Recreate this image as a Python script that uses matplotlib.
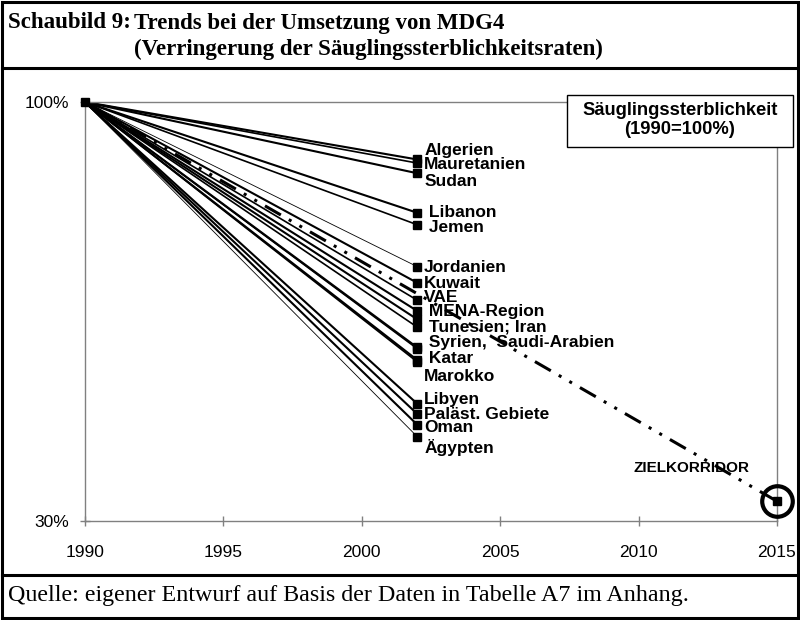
import matplotlib
matplotlib.use("Agg")
import matplotlib.pyplot as plt
from matplotlib.lines import Line2D
from matplotlib.patches import Rectangle

# ---- data -------------------------------------------------------------
countries = ["Algerien", "Mauretanien", "Sudan", "Libanon", "Jemen", "Jordanien",
             "Kuwait", "VAE", "MENA-Region", "Tunesien", "Iran", "Syrien",
             "Saudi-Arabien", "Katar", "Marokko", "Libyen", "Paläst. Gebiete",
             "Oman", "Ägypten"]
start_year = 1990
end_year = 2002
values_2002 = [90.4, 89.8, 88.1, 81.5, 79.5, 72.5,
               69.8, 66.9, 65.1, 63.7, 62.4, 59.0,
               58.8, 56.9, 56.6, 49.6, 47.9,
               46.1, 44.1]
target_years = [1990, 2015]
target_values = [100, 33.3]

label_texts = ["Algerien", "Mauretanien", "Sudan", " Libanon", " Jemen", "Jordanien",
               "Kuwait", "VAE", " MENA-Region", " Tunesien; Iran",
               " Syrien,  Saudi-Arabien", " Katar", "Marokko", "Libyen",
               "Paläst. Gebiete", "Oman", "Ägypten"]
label_y = [91.98, 89.48, 86.64, 81.46, 78.95, 72.27, 69.76, 67.42, 64.92, 62.41,
           59.74, 57.07, 54.06, 50.38, 47.71, 45.54, 42.2]
line_widths = [1.5, 1.2, 1.5, 1.5, 1.2, 0.6, 1.5, 1.2, 1.5, 1.5, 1.2, 1.5,
               1.2, 1.5, 1.2, 1.5, 1.5, 1.5, 0.6]

x_ticks = [1990, 1995, 2000, 2005, 2010, 2015]
y_ticks = [30, 100]
y_ticklabels = ["30%", "100%"]

# ---- figure -------------------------------------------------------------
W, H = 800, 620
fig = plt.figure(figsize=(W / 100, H / 100), dpi=100)
fig.patch.set_facecolor("white")

def fx(px):
    return px / W

def fy(py):
    return 1 - py / H

# frame
fig.add_artist(Rectangle((fx(2), fy(618)), fx(796), (616) / H, transform=fig.transFigure,
                         fill=False, lw=2.2, ec="black"))
fig.add_artist(Line2D([fx(2), fx(798)], [fy(68), fy(68)], transform=fig.transFigure,
                      lw=2.2, color="black"))
fig.add_artist(Line2D([fx(2), fx(798)], [fy(575), fy(575)], transform=fig.transFigure,
                      lw=2.2, color="black"))

serif = ["Liberation Serif", "DejaVu Serif"]
sans = ["Liberation Sans", "DejaVu Sans"]

fig.text(fx(8), fy(23), "Schaubild 9:", family=serif, weight="bold", fontsize=16.5,
         va="center", ha="left")
fig.text(fx(134), fy(23), "Trends bei der Umsetzung von MDG4", family=serif,
         weight="bold", fontsize=16.5, va="center", ha="left")
fig.text(fx(134), fy(49), "(Verringerung der Säuglingssterblichkeitsraten)", family=serif,
         weight="bold", fontsize=16.5, va="center", ha="left")
fig.text(fx(8), fy(596), "Quelle: eigener Entwurf auf Basis der Daten in Tabelle A7 im Anhang.",
         family=serif, fontsize=17.3, va="center", ha="left")

# axes
ax = fig.add_axes([fx(85), fy(521), fx(777) - fx(85), (521 - 102) / H])
ax.set_xlim(1990, 2015)
ax.set_ylim(30, 100)
for s in ax.spines.values():
    s.set_color("#808080")
    s.set_linewidth(1.0)
ax.set_xticks(x_ticks)
ax.set_xticklabels([str(t) for t in x_ticks], family=sans, fontsize=12.5)
ax.set_yticks(y_ticks)
ax.set_yticklabels(y_ticklabels, family=sans, fontsize=12.5)
ax.tick_params(axis="both", direction="inout", length=7, width=1, color="#808080")
ax.tick_params(axis="x", pad=14)
ax.tick_params(axis="y", pad=8)

for v, lw in zip(values_2002, line_widths):
    ax.plot([start_year, end_year], [100, v], color="black", lw=lw,
            solid_capstyle="butt", zorder=2)
    ax.plot([end_year], [v], marker="s", ms=5.5, color="black", ls="none", zorder=3,
            clip_on=False)
ax.plot([start_year], [100], marker="s", ms=6, color="black", ls="none", zorder=3,
        clip_on=False)

# target line
ax.plot(target_years, target_values, color="black", lw=2.2,
        linestyle=(0, (6, 3, 1, 3, 1, 3)), zorder=2.5)
ax.plot([target_years[-1]], [target_values[-1]], marker="s", ms=6, color="black",
        ls="none", zorder=4, clip_on=False)
ax.plot([target_years[-1]], [target_values[-1]], marker="o", ms=22, mfc="none",
        mec="black", mew=3, ls="none", zorder=4, clip_on=False)

for t, y in zip(label_texts, label_y):
    ax.text(2002.25, y, t, family=sans, weight="bold", fontsize=12.5, ha="left",
            va="center", zorder=5)

ax.text(2014.0, 38.9, "ZIELKORRIDOR", family=sans, weight="bold", fontsize=11,
        ha="right", va="center", zorder=5)

# legend-like box
fig.add_artist(Rectangle((fx(567), fy(147)), fx(793) - fx(567), (147 - 95) / H,
                         transform=fig.transFigure, fc="white", ec="black", lw=1.0,
                         zorder=9))
fig.text(fx(680), fy(120), "Säuglingssterblichkeit\n(1990=100%)", family=sans,
         weight="bold", fontsize=13.2, ha="center", va="center", linespacing=1.2,
         zorder=10)

fig.savefig("out.png", dpi=100)
